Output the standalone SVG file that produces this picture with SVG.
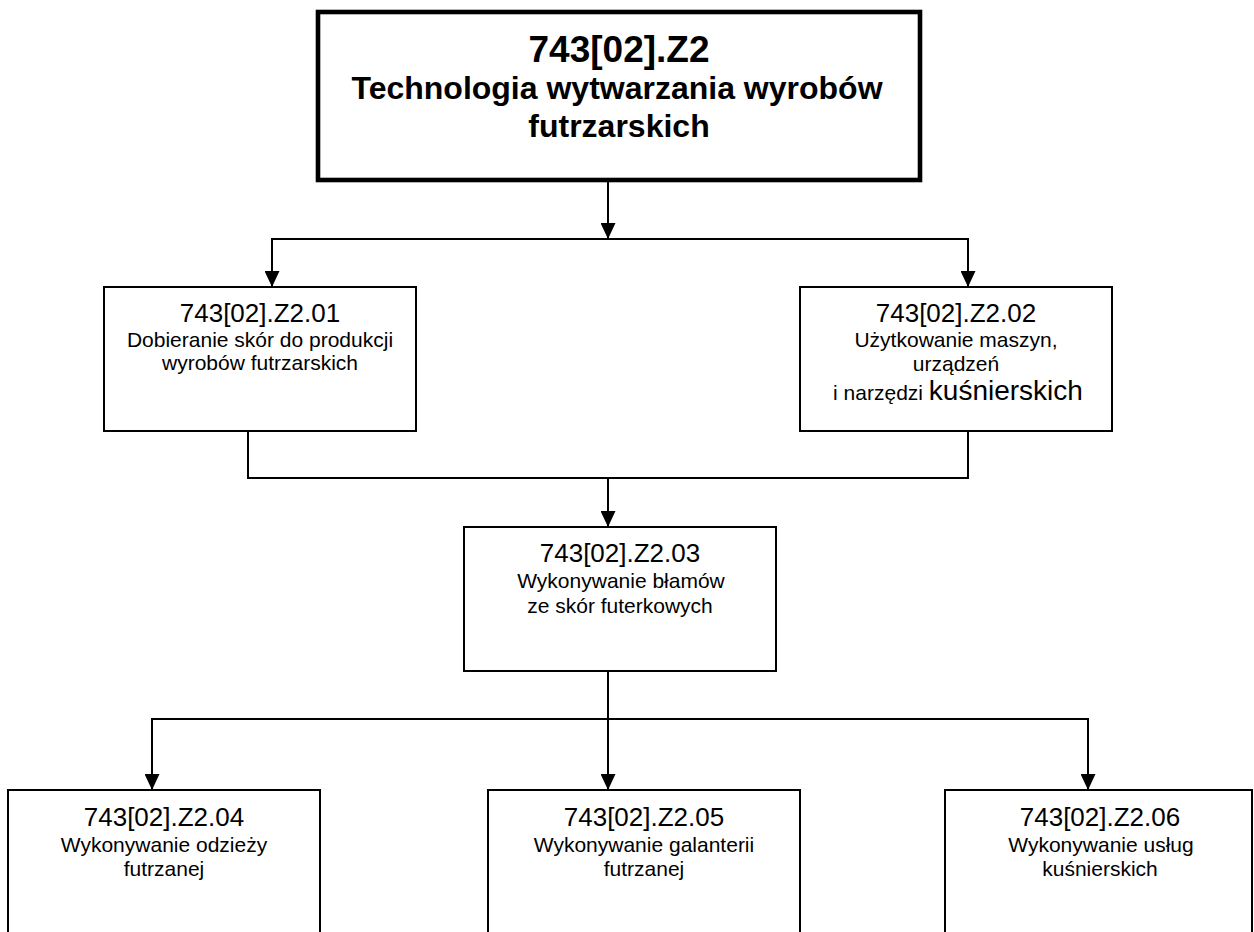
<svg xmlns="http://www.w3.org/2000/svg" width="1254" height="932" viewBox="0 0 1254 932">
  <style>
    .box { fill: #ffffff; stroke: #000000; stroke-width: 2; }
    .main { fill: #ffffff; stroke: #000000; stroke-width: 4.6; }
    .t { font-family: "Liberation Sans", Arial, sans-serif; fill: #000000; text-anchor: middle; }
    .code { font-size: 26px; }
    .body { font-size: 21px; }
    .big { font-size: 28px; }
    .mt { font-weight: bold; font-size: 37px; }
    .ms { font-weight: bold; font-size: 32px; }
    .conn { fill: none; stroke: #000000; stroke-width: 2; }
  </style>
  <defs>
    <marker id="arrow" viewBox="0 0 16 15" refX="16" refY="7.5" markerWidth="16" markerHeight="15" markerUnits="userSpaceOnUse" orient="auto">
      <path d="M0,0 L16,7.5 L0,15 z" fill="#000000"/>
    </marker>
  </defs>
  <rect width="1254" height="932" fill="#ffffff"/>

  <g id="connectors">
    <line class="conn" x1="608" y1="182" x2="608" y2="239" marker-end="url(#arrow)"/>
    <line class="conn" x1="271" y1="239" x2="969" y2="239"/>
    <line class="conn" x1="272" y1="239" x2="272" y2="287" marker-end="url(#arrow)"/>
    <line class="conn" x1="968" y1="239" x2="968" y2="287" marker-end="url(#arrow)"/>
    <polyline class="conn" points="248,431 248,478 968,478 968,431"/>
    <line class="conn" x1="608" y1="478" x2="608" y2="527" marker-end="url(#arrow)"/>
    <line class="conn" x1="608" y1="671" x2="608" y2="719"/>
    <line class="conn" x1="151" y1="719" x2="1089" y2="719"/>
    <line class="conn" x1="152" y1="719" x2="152" y2="790" marker-end="url(#arrow)"/>
    <line class="conn" x1="608" y1="719" x2="608" y2="790" marker-end="url(#arrow)"/>
    <line class="conn" x1="1088" y1="719" x2="1088" y2="790" marker-end="url(#arrow)"/>
  </g>

  <g id="node-main">
    <rect class="main" x="318" y="12" width="602" height="168"/>
    <text class="t mt" x="619" y="62">743[02].Z2</text>
    <text class="t ms" x="617" y="99">Technologia wytwarzania wyrobów</text>
    <text class="t ms" x="619" y="137">futrzarskich</text>
  </g>

  <g id="node-01">
    <rect class="box" x="104" y="287" width="312" height="144"/>
    <text class="t code" x="260" y="322">743[02].Z2.01</text>
    <text class="t body" x="260" y="347">Dobieranie skór do produkcji</text>
    <text class="t body" x="260" y="370">wyrobów futrzarskich</text>
  </g>

  <g id="node-02">
    <rect class="box" x="800" y="287" width="312" height="144"/>
    <text class="t code" x="956" y="322">743[02].Z2.02</text>
    <text class="t body" x="956" y="347">Użytkowanie maszyn,</text>
    <text class="t body" x="956" y="371">urządzeń</text>
    <text class="t" x="958" y="400"><tspan class="body">i narzędzi </tspan><tspan class="big">kuśnierskich</tspan></text>
  </g>

  <g id="node-03">
    <rect class="box" x="464" y="527" width="312" height="144"/>
    <text class="t code" x="620" y="562">743[02].Z2.03</text>
    <text class="t body" x="621" y="588">Wykonywanie błamów</text>
    <text class="t body" x="620" y="613">ze skór futerkowych</text>
  </g>

  <g id="node-04">
    <rect class="box" x="8" y="790" width="312" height="200"/>
    <text class="t code" x="164" y="826">743[02].Z2.04</text>
    <text class="t body" x="164" y="852">Wykonywanie odzieży</text>
    <text class="t body" x="164" y="876">futrzanej</text>
  </g>

  <g id="node-05">
    <rect class="box" x="488" y="790" width="312" height="200"/>
    <text class="t code" x="644" y="826">743[02].Z2.05</text>
    <text class="t body" x="644" y="852">Wykonywanie galanterii</text>
    <text class="t body" x="644" y="876">futrzanej</text>
  </g>

  <g id="node-06">
    <rect class="box" x="945" y="790" width="307" height="200"/>
    <text class="t code" x="1100" y="826">743[02].Z2.06</text>
    <text class="t body" x="1101" y="852">Wykonywanie usług</text>
    <text class="t body" x="1100" y="876">kuśnierskich</text>
  </g>
</svg>
